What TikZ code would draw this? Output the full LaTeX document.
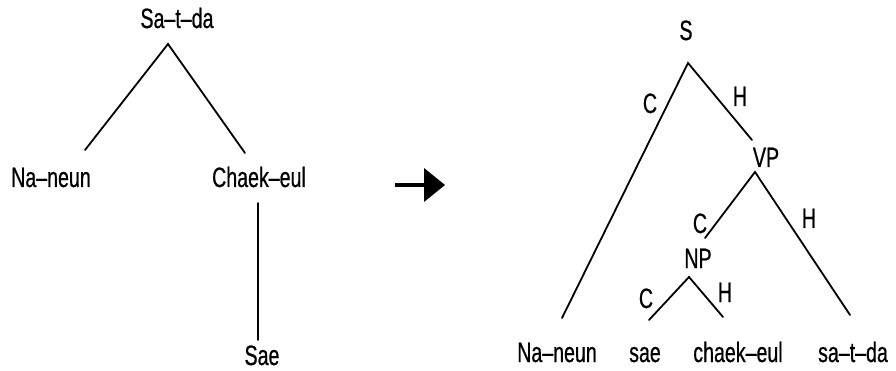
\documentclass[tikz,border=0pt]{standalone}
\usepackage{fontspec}
\setmainfont{Liberation Sans}[FakeStretch=0.7,FakeBold=0.6]
\begin{document}
\begin{tikzpicture}[x=1pt,y=-1pt,
  lbl/.style={anchor=base,inner sep=0pt,font=\fontsize{28}{28}\selectfont},
  branch/.style={line width=1.8pt,line cap=round},
  bigarrow/.style={line width=4pt}]
\useasboundingbox (0,0) rectangle (896,371);

% ---- dependency tree ----
\node[lbl] (top) at (177,28) {Sa–t–da};
\node[lbl] (nan) at (51,187) {Na–neun};
\node[lbl] (chk) at (259,187) {Chaek–eul};
\node[lbl] (sae) at (262,365) {Sae};
\coordinate (tapex) at (168,44);
\coordinate (tl) at (85,150);
\coordinate (tr) at (245,153);
\coordinate (cv1) at (258,203);
\coordinate (cv2) at (258,340);
\draw[branch] (tl) -- (tapex) -- (tr);
\draw[branch] (cv1) -- (cv2);

% ---- arrow ----
\coordinate (a0) at (395,185);
\coordinate (a1) at (425,185);
\coordinate (atip) at (445,185);
\coordinate (ab1) at (424,168);
\coordinate (ab2) at (424,202);
\draw[bigarrow] (a0) -- (a1);
\fill (ab1) -- (atip) -- (ab2) -- cycle;

% ---- phrase structure tree ----
\node[lbl] (S) at (686,40) {S};
\node[lbl] (VP) at (766,167) {VP};
\node[lbl] (NP) at (698,268) {NP};
\node[lbl] (c1) at (650,113) {C};
\node[lbl] (h1) at (740,106) {H};
\node[lbl] (c2) at (700,233) {C};
\node[lbl] (h2) at (809,228) {H};
\node[lbl] (c3) at (646,308) {C};
\node[lbl] (h3) at (725,302) {H};
\node[lbl] (w1) at (557,362) {Na–neun};
\node[lbl] (w2) at (645,362) {sae};
\node[lbl] (w3) at (738,362) {chaek–eul};
\node[lbl] (w4) at (853,362) {sa–t–da};

\coordinate (sapex) at (688,63);
\coordinate (sl) at (562,318);
\coordinate (sr) at (752,140);
\coordinate (vapex) at (755,172);
\coordinate (vl) at (705,238);
\coordinate (vr) at (850,315);
\coordinate (napex) at (689,277);
\coordinate (nl) at (649,320);
\coordinate (nr) at (723,317);
\draw[branch] (sl) -- (sapex) -- (sr);
\draw[branch] (vl) -- (vapex) -- (vr);
\draw[branch] (nl) -- (napex) -- (nr);
\end{tikzpicture}
\end{document}
